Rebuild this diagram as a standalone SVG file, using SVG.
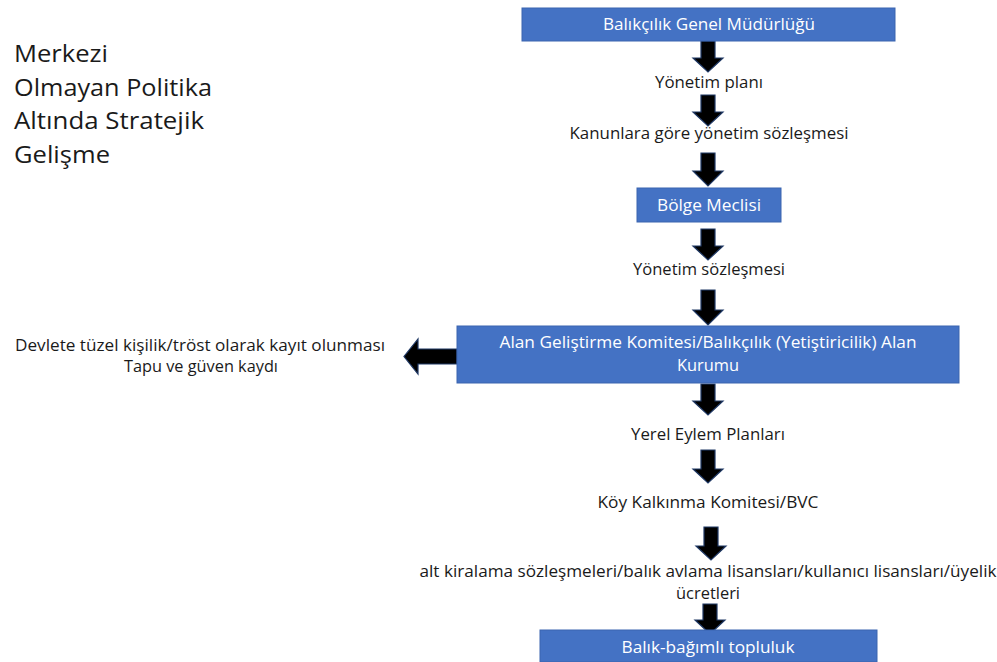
<svg xmlns="http://www.w3.org/2000/svg" width="997" height="662" viewBox="0 0 997 662">
<style>
.box{fill:#4472C4;stroke:#3A64AF;stroke-width:1}
.wt{fill:#FFFFFF;font-family:"Open Sans","Noto Sans",sans-serif;font-size:15.5px;text-anchor:middle}
.bt{fill:#1a1a1a;font-family:"Open Sans","Noto Sans",sans-serif;font-size:15.5px;text-anchor:middle}
.tt{fill:#1a1a1a;font-family:"Open Sans","Noto Sans",sans-serif;font-size:23px}
.arr{fill:#000000;stroke:#1F3864;stroke-width:1.2;stroke-linejoin:miter}
</style>
<rect width="997" height="662" fill="#FFFFFF"/>
<g id="title">
<text class="tt" x="14" y="62" textLength="94" lengthAdjust="spacingAndGlyphs">Merkezi</text>
<text class="tt" x="14" y="96" textLength="198" lengthAdjust="spacingAndGlyphs">Olmayan Politika</text>
<text class="tt" x="14" y="129" textLength="190" lengthAdjust="spacingAndGlyphs">Altında Stratejik</text>
<text class="tt" x="14" y="163" textLength="96" lengthAdjust="spacingAndGlyphs">Gelişme</text>
</g>
<g id="connectors">
<path class="arr" d="M701,41 H715 V58 H723 L708,72 L693,58 H701 Z"/>
<path class="arr" d="M701,95 H715 V112 H723 L708,126 L693,112 H701 Z"/>
<path class="arr" d="M701,153 H715 V171 H723 L708,186 L693,171 H701 Z"/>
<path class="arr" d="M701,229 H715 V246 H723 L708,260 L693,246 H701 Z"/>
<path class="arr" d="M701,290 H715 V310 H723 L708,325 L693,310 H701 Z"/>
<path class="arr" d="M701,384 H715 V401 H723 L708,415 L693,401 H701 Z"/>
<path class="arr" d="M701,450 H715 V469 H723 L708,483 L693,469 H701 Z"/>
<path class="arr" d="M704,527 H718 V546 H726 L711,560 L696,546 H704 Z"/>
<path class="arr" d="M703,604 H717 V620 H725 L710,634 L695,620 H703 Z"/>
<path class="arr" d="M457,349 V364 H418 V374 L404,356.5 L418,339 V349 Z"/>
</g>
<g id="n1">
<rect class="box" x="522" y="8" width="373" height="33"/>
<text class="wt" x="709" y="30" textLength="212" lengthAdjust="spacingAndGlyphs">Balıkçılık Genel Müdürlüğü</text>
</g>
<g id="n2">
<text class="bt" x="709" y="88" textLength="108" lengthAdjust="spacingAndGlyphs">Yönetim planı</text>
</g>
<g id="n3">
<text class="bt" x="709" y="139" textLength="279" lengthAdjust="spacingAndGlyphs">Kanunlara göre yönetim sözleşmesi</text>
</g>
<g id="n4">
<rect class="box" x="637" y="188" width="144" height="34"/>
<text class="wt" x="709" y="211" textLength="104" lengthAdjust="spacingAndGlyphs">Bölge Meclisi</text>
</g>
<g id="n5">
<text class="bt" x="709" y="275" textLength="152" lengthAdjust="spacingAndGlyphs">Yönetim sözleşmesi</text>
</g>
<g id="n6">
<rect class="box" x="457" y="326" width="502" height="57"/>
<text class="wt" x="708" y="348" textLength="417" lengthAdjust="spacingAndGlyphs">Alan Geliştirme Komitesi/Balıkçılık (Yetiştiricilik) Alan</text>
<text class="wt" x="708" y="371" textLength="62" lengthAdjust="spacingAndGlyphs">Kurumu</text>
</g>
<g id="n7">
<text class="bt" x="200" y="351" textLength="370" lengthAdjust="spacingAndGlyphs">Devlete tüzel kişilik/tröst olarak kayıt olunması</text>
<text class="bt" x="201" y="372" textLength="154" lengthAdjust="spacingAndGlyphs">Tapu ve güven kaydı</text>
</g>
<g id="n8">
<text class="bt" x="708" y="440" textLength="154" lengthAdjust="spacingAndGlyphs">Yerel Eylem Planları</text>
</g>
<g id="n9">
<text class="bt" x="708" y="508" textLength="221" lengthAdjust="spacingAndGlyphs">Köy Kalkınma Komitesi/BVC</text>
</g>
<g id="n10">
<text class="bt" x="708" y="577" textLength="577" lengthAdjust="spacingAndGlyphs">alt kiralama sözleşmeleri/balık avlama lisansları/kullanıcı lisansları/üyelik</text>
<text class="bt" x="708" y="599" textLength="64" lengthAdjust="spacingAndGlyphs">ücretleri</text>
</g>
<g id="n11">
<rect class="box" x="540" y="630" width="337" height="32"/>
<text class="wt" x="708" y="653" textLength="173" lengthAdjust="spacingAndGlyphs">Balık-bağımlı topluluk</text>
</g>
</svg>
